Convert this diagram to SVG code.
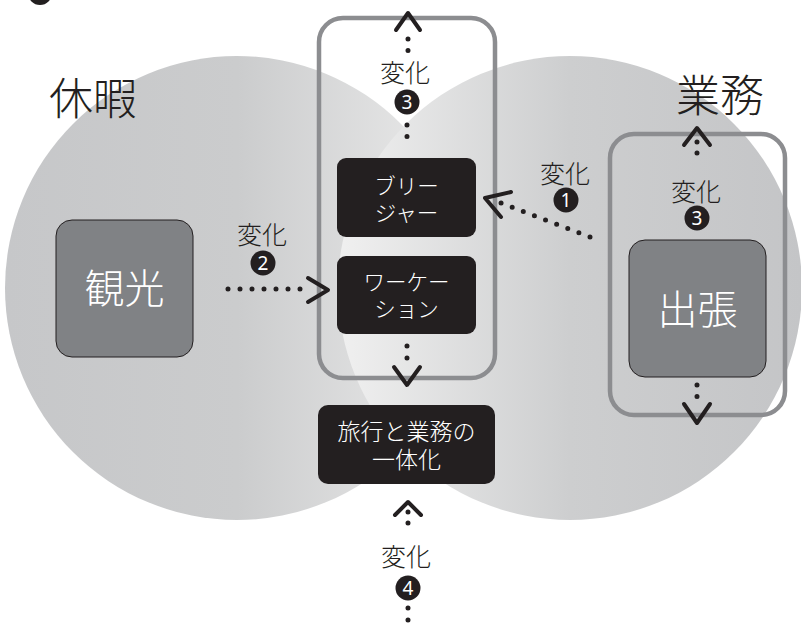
<svg xmlns="http://www.w3.org/2000/svg" width="801" height="635" viewBox="0 0 801 635">
  <defs>
    <linearGradient id="gL" x1="0" y1="0" x2="1" y2="0">
      <stop offset="0" stop-color="#c6c7c9"/>
      <stop offset="0.5" stop-color="#cbcccd"/>
      <stop offset="1" stop-color="#ececec"/>
    </linearGradient>
    <linearGradient id="gR" x1="0" y1="0" x2="1" y2="0">
      <stop offset="0" stop-color="#f0f0f0"/>
      <stop offset="0.5" stop-color="#cdcecf"/>
      <stop offset="1" stop-color="#c4c5c7"/>
    </linearGradient>
  </defs>
  <style>
    .jp { font-family: "Noto Sans CJK JP", "Noto Sans", sans-serif; font-weight: 300; }
    .big { font-size: 44px; fill: #231f20; }
    .gbox { fill: #808285; stroke: #231f20; stroke-width: 1; }
    .gtxt { font-size: 40px; fill: #ffffff; text-anchor: middle; }
    .bbox { fill: #231f20; }
    .btxt { font-size: 21.5px; fill: #ffffff; text-anchor: middle; }
    .cont { fill: none; stroke: #8c8d90; stroke-width: 4.5; }
    .lbl { font-size: 25px; fill: #231f20; text-anchor: middle; }
    .num { fill: #231f20; }
    .numt { font-family: "Noto Sans", "Liberation Sans", sans-serif; font-size: 19px; fill: #ffffff; text-anchor: middle; }
    .dots { fill: none; stroke: #231f20; stroke-width: 5; stroke-linecap: round; }
    .head { fill: none; stroke: #231f20; stroke-width: 4; stroke-linecap: round; stroke-linejoin: round; }
  </style>
  <rect width="801" height="635" fill="#ffffff"/>
  <circle cx="40" cy="-7" r="12" fill="#231f20"/>
  <g id="circle-kyuka">
    <circle cx="237" cy="288" r="232" fill="url(#gL)"/>
    <text class="jp big" x="49" y="115">休暇</text>
  </g>
  <g id="circle-gyomu">
    <circle cx="570" cy="288" r="232" fill="url(#gR)"/>
    <text class="jp big" x="720" y="112" text-anchor="middle">業務</text>
  </g>
  <g id="container-left">
    <rect class="cont" x="319" y="18" width="176" height="360" rx="24"/>
  </g>
  <g id="container-right">
    <rect class="cont" x="610" y="134" width="175" height="281" rx="24"/>
  </g>
  <g id="kanko">
    <rect class="gbox" x="56" y="220" width="137" height="137" rx="16"/>
    <text class="jp gtxt" x="124.5" y="303">観光</text>
  </g>
  <g id="shucho">
    <rect class="gbox" x="629" y="240" width="137" height="137" rx="16"/>
    <text class="jp gtxt" x="697.5" y="324">出張</text>
  </g>
  <g id="bleisure">
    <rect class="bbox" x="337" y="158" width="139" height="79" rx="9"/>
    <text class="jp btxt" x="406.5" y="194">ブリー</text>
    <text class="jp btxt" x="406.5" y="221">ジャー</text>
  </g>
  <g id="workation">
    <rect class="bbox" x="337" y="256" width="139" height="78" rx="9"/>
    <text class="jp btxt" x="406.5" y="290">ワーケー</text>
    <text class="jp btxt" x="406.5" y="317">ション</text>
  </g>
  <g id="ittaika">
    <rect class="bbox" x="318" y="405" width="177" height="79" rx="10"/>
    <text class="jp btxt" x="406.5" y="440" style="font-size:23px">旅行と業務の</text>
    <text class="jp btxt" x="406.5" y="468" style="font-size:23px">一体化</text>
  </g>
  <g id="connectors">
    <!-- henka 3 top -->
    <path class="dots" d="M408 39 V51" stroke-dasharray="0 11.5"/>
    <polyline class="head" points="396,30 408,13 420,30"/>
    <path class="dots" d="M407 125 V148" stroke-dasharray="0 11.5"/>
    <text class="jp lbl" x="405" y="82">変化</text>
    <circle class="num" cx="407" cy="102" r="12.5"/>
    <text class="numt" x="407" y="109">3</text>
    <!-- henka 2 -->
    <path class="dots" d="M228 289 H312" stroke-dasharray="0 12"/>
    <polyline class="head" points="308,278 328,290 308,302"/>
    <text class="jp lbl" x="262" y="244">変化</text>
    <circle class="num" cx="263" cy="263" r="12.5"/>
    <text class="numt" x="263" y="270">2</text>
    <!-- henka 1 -->
    <path class="dots" d="M590 237 L501 203" stroke-dasharray="0 11.9"/>
    <polyline class="head" points="511,192 485,198 501,217"/>
    <text class="jp lbl" x="565" y="183">変化</text>
    <circle class="num" cx="566" cy="200" r="12.5"/>
    <text class="numt" x="566" y="207">1</text>
    <!-- henka 3 right -->
    <polyline class="head" points="684,145 697,128 710,145"/>
    <path class="dots" d="M697 142 V164" stroke-dasharray="0 11"/>
    <text class="jp lbl" x="696" y="201">変化</text>
    <circle class="num" cx="697" cy="218" r="12.5"/>
    <text class="numt" x="697" y="225">3</text>
    <!-- right bottom -->
    <path class="dots" d="M697 385 V408" stroke-dasharray="0 11.5"/>
    <polyline class="head" points="684,404 697,423 710,404"/>
    <!-- left container bottom -->
    <path class="dots" d="M407 346 V370" stroke-dasharray="0 12"/>
    <polyline class="head" points="394,367 407,385 420,367"/>
    <!-- henka 4 -->
    <polyline class="head" points="395,515 408,502 421,515"/>
    <path class="dots" d="M408 512 V534" stroke-dasharray="0 11"/>
    <text class="jp lbl" x="406" y="566">変化</text>
    <circle class="num" cx="408" cy="588" r="12.5"/>
    <text class="numt" x="408" y="595">4</text>
    <path class="dots" d="M408 608 V632" stroke-dasharray="0 12"/>
  </g>
</svg>
